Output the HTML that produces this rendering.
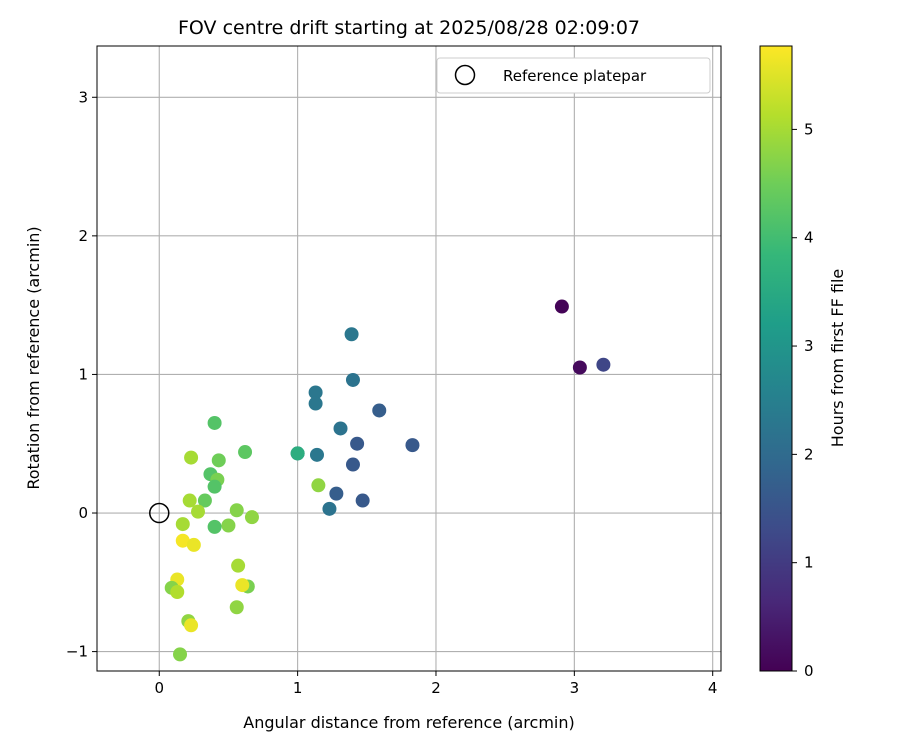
<!DOCTYPE html>
<html><head><meta charset="utf-8"><style>body{margin:0;background:#fff}svg text{font-family:"DejaVu Sans","Liberation Sans",sans-serif}</style></head>
<body>
<svg id="c" width="900" height="750" xmlns="http://www.w3.org/2000/svg"></svg>
<script>
const xs=[0.40,0.62,0.23,0.43,0.37,0.42,0.40,0.22,0.33,0.28,0.56,0.67,0.17,0.40,0.50,0.17,0.25,0.57,0.64,0.60,0.13,0.09,0.13,0.56,0.21,0.23,0.15,1.39,1.40,1.13,1.13,1.59,1.31,1.43,1.83,1.00,1.00,1.14,1.40,1.15,1.28,1.47,1.23,2.91,3.04,3.21];
const ys=[0.65,0.44,0.40,0.38,0.28,0.24,0.19,0.09,0.09,0.01,0.02,-0.03,-0.08,-0.10,-0.09,-0.20,-0.23,-0.38,-0.53,-0.52,-0.48,-0.54,-0.57,-0.68,-0.78,-0.81,-1.02,1.29,0.96,0.87,0.79,0.74,0.61,0.50,0.49,0.43,0.43,0.42,0.35,0.20,0.14,0.09,0.03,1.49,1.05,1.07];
const hours=[4.2,4.3,5.0,4.5,4.2,4.6,4.2,5.0,4.4,5.0,4.7,4.8,5.0,4.2,4.7,5.7,5.6,5.0,4.6,5.6,5.6,4.7,5.1,4.8,4.8,5.6,4.7,2.3,2.2,2.3,2.3,1.7,2.2,1.6,1.6,2.5,3.6,2.3,1.6,4.8,1.7,1.6,2.2,0.05,0.15,1.2];
const xTicks=[0,1,2,3,4], yTicks=[-1,0,1,2,3], cTicks=[0,1,2,3,4,5];
const HMAX=5.77;
const X0=97,X1=721,Y0=46,Y1=671,XMIN=-0.45,XMAX=4.06,YMIN=-1.14,YMAX=3.37;
const sx=v=>X0+(v-XMIN)/(XMAX-XMIN)*(X1-X0);
const sy=v=>Y1-(v-YMIN)/(YMAX-YMIN)*(Y1-Y0);
const vir=[[68,1,84],[72,40,120],[62,74,137],[49,104,142],[38,130,142],[31,158,137],[53,183,121],[109,205,89],[180,222,44],[253,231,37]];
function col(h){let t=Math.max(0,Math.min(1,h/HMAX))*9,i=Math.min(8,Math.floor(t)),f=t-i,a=vir[i],b=vir[i+1];return `rgb(${a.map((v,k)=>Math.round(v+(b[k]-v)*f)).join(',')})`;}
const s=document.getElementById('c'),NS='http://www.w3.org/2000/svg';
function el(t,at,txt){const e=document.createElementNS(NS,t);for(const k in at)e.setAttribute(k,at[k]);if(txt!==undefined)e.textContent=txt;s.appendChild(e);return e;}
let e;
e=el('text',{x:409,y:34,'font-size':'19','text-anchor':'middle'},'FOV centre drift starting at 2025/08/28 02:09:07');

xTicks.forEach(v=>{const x=sx(v);
 e=el('line',{x1:x,x2:x,y1:Y0,y2:Y1,stroke:'#b0b0b0','stroke-width':1.1});
 el('line',{x1:x,x2:x,y1:Y1,y2:Y1+5,stroke:'#000'});
 e=el('text',{x:x,y:Y1+22,'font-size':'15','text-anchor':'middle'},v);});
yTicks.forEach(v=>{const y=sy(v);
 e=el('line',{x1:X0,x2:X1,y1:y,y2:y,stroke:'#b0b0b0','stroke-width':1.1});
 el('line',{x1:X0-5,x2:X0,y1:y,y2:y,stroke:'#000'});
 e=el('text',{x:X0-9,y:y+5,'font-size':'15','text-anchor':'end'},v<0?'\u22121':v);});
e=el('circle',{cx:sx(0),cy:sy(0),r:9.5,fill:'none',stroke:'#000','stroke-width':1.5});
xs.forEach((x,i)=>{e=el('circle',{cx:sx(x),cy:sy(ys[i]),r:7,fill:col(hours[i])});});
e=el('rect',{x:X0,y:Y0,width:X1-X0,height:Y1-Y0,fill:'none',stroke:'#000','stroke-width':1});
e=el('text',{x:409,y:728,'font-size':'16','text-anchor':'middle'},'Angular distance from reference (arcmin)');
e=el('text',{x:0,y:0,'font-size':'16','text-anchor':'middle',transform:'translate(39,358) rotate(-90)'},'Rotation from reference (arcmin)');
// legend
e=el('rect',{x:437,y:58,width:273,height:35,rx:3,fill:'#fff',stroke:'#ccc'});
el('circle',{cx:465,cy:75,r:9.5,fill:'none',stroke:'#000','stroke-width':1.5});
e=el('text',{x:503,y:81,'font-size':'15'},'Reference platepar');
// colorbar
const defs=el('defs',{});const g=document.createElementNS(NS,'linearGradient');g.setAttribute('id','vg');g.setAttribute('x1','0');g.setAttribute('y1','1');g.setAttribute('x2','0');g.setAttribute('y2','0');defs.appendChild(g);
vir.forEach((c,i)=>{const st=document.createElementNS(NS,'stop');st.setAttribute('offset',i/9);st.setAttribute('stop-color',`rgb(${c.join(',')})`);g.appendChild(st);});
e=el('rect',{x:760,y:Y0,width:32,height:Y1-Y0,fill:'url(#vg)',stroke:'#000'});
cTicks.forEach(v=>{const y=Y1-v/HMAX*(Y1-Y0);el('line',{x1:792,x2:797,y1:y,y2:y,stroke:'#000'});
 e=el('text',{x:804,y:y+5,'font-size':'15'},v);});
e=el('text',{x:0,y:0,'font-size':'16','text-anchor':'middle',transform:'translate(843,358) rotate(-90)'},'Hours from first FF file');
</script>
</body></html>
